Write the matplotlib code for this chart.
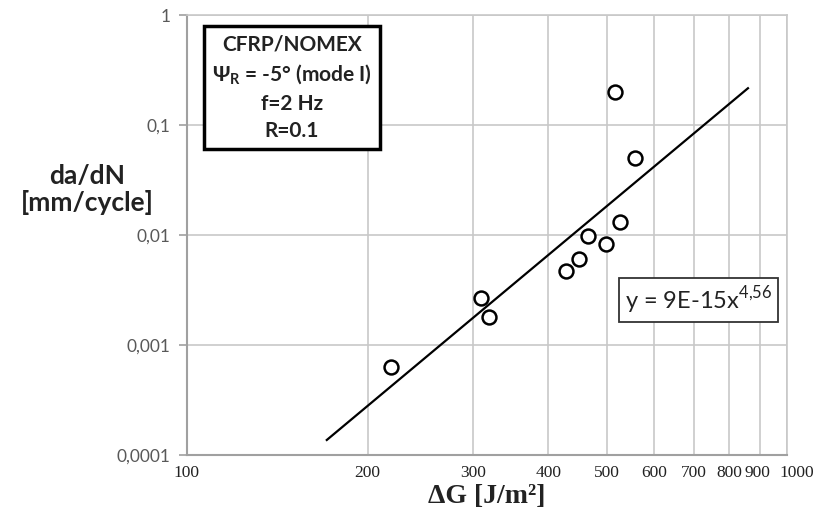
import numpy as np
import matplotlib.pyplot as plt
from matplotlib.ticker import FixedLocator, NullLocator
from matplotlib.transforms import ScaledTranslation

# data
dG = [219, 309, 319, 428, 449, 466, 498, 527, 517, 558]
dadN = [0.000635, 0.00266, 0.00181, 0.00471, 0.00601, 0.0098, 0.00828, 0.0132, 0.201, 0.0505]

# power law fit y = 9E-15 x^4.56
fit_a = 9e-15
fit_b = 4.56
fit_x = np.array([171, 860])

x_ticks = [100, 200, 300, 400, 500, 600, 700, 800, 900, 1000]
y_ticks = [0.0001, 0.001, 0.01, 0.1, 1]
y_labels = ["0,0001", "0,001", "0,01", "0,1", "1"]

fig = plt.figure(figsize=(8.27, 5.23), dpi=100)
ax = fig.add_axes([0.226, 0.130, 0.726, 0.841])

ax.set_xscale("log")
ax.set_yscale("log")
ax.set_xlim(100, 1000)
ax.set_ylim(0.0001, 1)

ax.plot(fit_x, fit_a * fit_x ** fit_b, color="black", lw=1.6, zorder=3)
ax.plot(dG, dadN, "o", mfc="white", mec="black", ms=10, mew=1.8, zorder=4)

# grid
ax.xaxis.set_major_locator(FixedLocator(x_ticks))
ax.xaxis.set_minor_locator(NullLocator())
ax.set_xticklabels([str(v) for v in x_ticks], family="Liberation Serif", fontsize=12.5, color="#222222")
ax.yaxis.set_major_locator(FixedLocator(y_ticks))
ax.yaxis.set_minor_locator(NullLocator())
ax.set_yticklabels(y_labels, family="Lato", fontsize=12.5, color="#595959")
ax.grid(True, color="#c8c8c8", lw=1.2)
ax.tick_params(axis="x", length=0, pad=7)
ax.tick_params(axis="y", length=6, color="#a0a0a0", width=1.2, pad=6)
for s in ["left", "bottom"]:
    ax.spines[s].set_color("#a0a0a0")
    ax.spines[s].set_linewidth(1.5)
for s in ["top", "right"]:
    ax.spines[s].set_color("#c8c8c8")
    ax.spines[s].set_linewidth(1.2)

# nudge the crowded labels at the right end apart
xl = ax.get_xticklabels()
xl[-1].set_transform(xl[-1].get_transform() + ScaledTranslation(7 / 72, 0, fig.dpi_scale_trans))
xl[-2].set_transform(xl[-2].get_transform() + ScaledTranslation(-2 / 72, 0, fig.dpi_scale_trans))

# labels
fig.text(0.105, 0.637, "da/dN\n[mm/cycle]", ha="center", va="center",
         family="Lato", fontweight="bold", fontsize=19, linespacing=1.1, color="#222222")
ax.set_xlabel("ΔG [J/m²]", family="Liberation Serif", fontweight="bold",
              fontsize=20, labelpad=2, color="#222222")

# info box
ax.text(0.175, 0.957, "CFRP/NOMEX\n" + r"Ψ$_\mathregular{R}$ = -5° (mode I)" + "\nf=2 Hz\nR=0.1",
        transform=ax.transAxes, ha="center", va="top", family="Lato", fontweight="bold",
        fontsize=15, linespacing=1.45, color="#222222", zorder=5,
        bbox=dict(boxstyle="square,pad=0.4", fc="white", ec="black", lw=2.5))

# equation box
ax.text(0.852, 0.352, r"y = 9E-15x$^\mathregular{4{,}56}$", transform=ax.transAxes,
        ha="center", va="center", family="Lato", fontsize=17, color="#222222", zorder=5,
        bbox=dict(boxstyle="square,pad=0.25", fc="white", ec="#333333", lw=1.3))

fig.savefig("out.png", dpi=100)
